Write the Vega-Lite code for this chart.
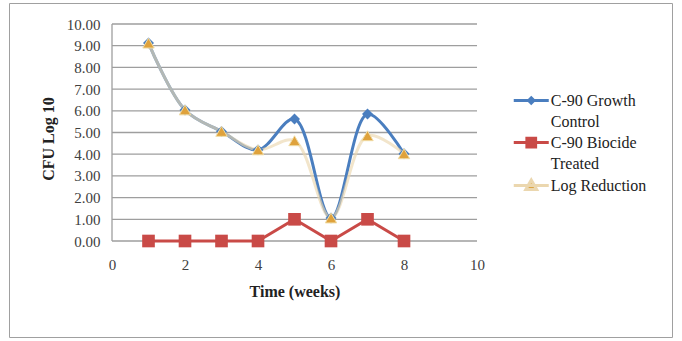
{
  "$schema": "https://vega.github.io/schema/vega-lite/v6.json",
  "width": 663,
  "height": 334,
  "autosize": "none",
  "padding": {"left": 9, "top": 3, "right": 10, "bottom": 4},
  "background": "white",
  "config": {
    "view": {"stroke": "#a0a0a0", "strokeWidth": 1},
    "font": "Liberation Serif",
    "axis": {
      "domain": false,
      "ticks": false,
      "grid": false,
      "labelOverlap": false,
      "labelFlush": false,
      "labelFont": "Liberation Serif",
      "labelFontSize": 15,
      "labelColor": "#404040",
      "titleFont": "Liberation Serif",
      "titleFontSize": 16,
      "titleFontWeight": "bold",
      "titleColor": "#222222",
      "titleAlign": "center",
      "titleBaseline": "middle"
    },
    "axisX": {"offset": -96, "labelPadding": 16, "titleX": 285.5, "titleY": 50},
    "axisY": {"offset": -103, "labelPadding": 12, "titleX": -64, "titleY": 135.5, "titleAngle": -90},
    "legend": {"labelFont": "Liberation Serif"}
  },
  "datasets": {
    "cfu": [
      {"week": 1, "series": "C-90 Growth Control", "value": 9.12},
      {"week": 2, "series": "C-90 Growth Control", "value": 6.04},
      {"week": 3, "series": "C-90 Growth Control", "value": 5.05},
      {"week": 4, "series": "C-90 Growth Control", "value": 4.2},
      {"week": 5, "series": "C-90 Growth Control", "value": 5.62},
      {"week": 6, "series": "C-90 Growth Control", "value": 1.06},
      {"week": 7, "series": "C-90 Growth Control", "value": 5.85},
      {"week": 8, "series": "C-90 Growth Control", "value": 4.02},
      {"week": 1, "series": "C-90 Biocide Treated", "value": 0},
      {"week": 2, "series": "C-90 Biocide Treated", "value": 0},
      {"week": 3, "series": "C-90 Biocide Treated", "value": 0},
      {"week": 4, "series": "C-90 Biocide Treated", "value": 0},
      {"week": 5, "series": "C-90 Biocide Treated", "value": 1},
      {"week": 6, "series": "C-90 Biocide Treated", "value": 0},
      {"week": 7, "series": "C-90 Biocide Treated", "value": 1},
      {"week": 8, "series": "C-90 Biocide Treated", "value": 0},
      {"week": 1, "series": "Log Reduction", "value": 9.12},
      {"week": 2, "series": "Log Reduction", "value": 6.04},
      {"week": 3, "series": "Log Reduction", "value": 5.05},
      {"week": 4, "series": "Log Reduction", "value": 4.2},
      {"week": 5, "series": "Log Reduction", "value": 4.62},
      {"week": 6, "series": "Log Reduction", "value": 1.06},
      {"week": 7, "series": "Log Reduction", "value": 4.85},
      {"week": 8, "series": "Log Reduction", "value": 4.02}
    ],
    "levels": [
      {"level": 0}, {"level": 1}, {"level": 2}, {"level": 3}, {"level": 4}, {"level": 5},
      {"level": 6}, {"level": 7}, {"level": 8}, {"level": 9}, {"level": 10}
    ]
  },
  "layer": [
    {
      "data": {"name": "levels"},
      "mark": {"type": "rule", "strokeWidth": 1.3, "color": "#9e9e9e"},
      "encoding": {
        "y": {
          "field": "level", "type": "quantitative", "title": "CFU Log 10",
          "scale": {"domain": [-4.424, 10.968], "nice": false, "zero": false},
          "axis": {"values": [0, 1, 2, 3, 4, 5, 6, 7, 8, 9, 10], "format": ".2f", "labelOverlap": false}
        },
        "x": {
          "datum": 0, "type": "quantitative", "title": "Time (weeks)",
          "scale": {"domain": [-2.822, 15.342], "nice": false, "zero": false},
          "axis": {"values": [0, 2, 4, 6, 8, 10], "labelOverlap": false}
        },
        "x2": {"datum": 10}
      }
    },
    {
      "data": {"name": "levels"},
      "transform": [{"filter": "datum.level == 0"}],
      "mark": {"type": "rule", "strokeWidth": 1.3, "color": "#9e9e9e"},
      "encoding": {
        "x": {"datum": 0, "type": "quantitative", "title": "Time (weeks)", "axis": {"values": [0, 2, 4, 6, 8, 10], "labelOverlap": false}},
        "y": {"field": "level", "type": "quantitative", "title": "CFU Log 10", "axis": {"values": [0, 1, 2, 3, 4, 5, 6, 7, 8, 9, 10], "format": ".2f", "labelOverlap": false}},
        "y2": {"datum": 10}
      }
    },
    {
      "data": {"name": "cfu"},
      "transform": [{"filter": "datum.series == 'C-90 Growth Control'"}],
      "mark": {"type": "line", "interpolate": "catmull-rom", "strokeWidth": 3},
      "encoding": {
        "x": {"field": "week", "type": "quantitative", "title": "Time (weeks)", "axis": {"values": [0, 2, 4, 6, 8, 10], "labelOverlap": false}},
        "y": {"field": "value", "type": "quantitative", "title": "CFU Log 10", "axis": {"values": [0, 1, 2, 3, 4, 5, 6, 7, 8, 9, 10], "format": ".2f", "labelOverlap": false}},
        "color": {
          "field": "series",
          "type": "nominal",
          "scale": {
            "domain": ["C-90 Growth Control", "C-90 Biocide Treated", "Log Reduction"],
            "range": ["#4a7ebf", "#c94a47", "#ebd7af"]
          },
          "legend": {
            "orient": "none",
            "legendX": 511.75,
            "legendY": 87,
            "title": null,
            "padding": 0,
            "symbolSize": 306.25,
            "symbolStrokeWidth": 3,
            "rowPadding": 2,
            "labelOffset": 9,
            "labelFont": "Liberation Serif",
            "labelFontSize": 16,
            "labelColor": "#222222",
            "labelBaseline": "alphabetic",
            "labelLimit": 200,
            "labelExpr": "datum.label == 'C-90 Growth Control' ? ['C-90 Growth', 'Control'] : datum.label == 'C-90 Biocide Treated' ? ['C-90 Biocide', 'Treated'] : datum.label",
            "encode": {
              "symbols": {
                "update": {
                  "shape": {"signal": "datum.value == 'C-90 Growth Control' ? 'M-2,0H2M0,-0.3L0.3,0L0,0.3L-0.3,0Z' : datum.value == 'C-90 Biocide Treated' ? 'M-2,0H2M-0.5,-0.5H0.5V0.5H-0.5Z' : 'M-2,0H2M0,-0.62L0.62,0.45H-0.62Z'"},
                  "fill": {"signal": "datum.value == 'C-90 Growth Control' ? '#4a7ebf' : datum.value == 'C-90 Biocide Treated' ? '#c94a47' : '#dba443'"},
                  "stroke": {"signal": "datum.value == 'C-90 Growth Control' ? '#4a7ebf' : datum.value == 'C-90 Biocide Treated' ? '#c94a47' : '#f3e0bb'"},
                  "opacity": {"value": 1},
                  "strokeOpacity": {"value": 1},
                  "fillOpacity": {"value": 1}
                }
              },
              "labels": {
                "update": {
                  "lineHeight": {"value": 21.5},
                  "dy": {"value": 5},
                  "font": {"value": "Liberation Serif"}
                }
              }
            }
          }
        }
      }
    },
    {
      "data": {"name": "cfu"},
      "transform": [{"filter": "datum.series == 'C-90 Biocide Treated'"}],
      "mark": {"type": "line", "interpolate": "linear", "strokeWidth": 3},
      "encoding": {
        "x": {"field": "week", "type": "quantitative", "title": "Time (weeks)", "axis": {"values": [0, 2, 4, 6, 8, 10], "labelOverlap": false}},
        "y": {"field": "value", "type": "quantitative", "title": "CFU Log 10", "axis": {"values": [0, 1, 2, 3, 4, 5, 6, 7, 8, 9, 10], "format": ".2f", "labelOverlap": false}},
        "color": {"field": "series", "type": "nominal"}
      }
    },
    {
      "data": {"name": "cfu"},
      "transform": [{"filter": "datum.series == 'Log Reduction'"}],
      "mark": {"type": "line", "interpolate": "catmull-rom", "strokeWidth": 3, "opacity": 0.65},
      "encoding": {
        "x": {"field": "week", "type": "quantitative", "title": "Time (weeks)", "axis": {"values": [0, 2, 4, 6, 8, 10], "labelOverlap": false}},
        "y": {"field": "value", "type": "quantitative", "title": "CFU Log 10", "axis": {"values": [0, 1, 2, 3, 4, 5, 6, 7, 8, 9, 10], "format": ".2f", "labelOverlap": false}},
        "color": {"field": "series", "type": "nominal"}
      }
    },
    {
      "data": {"name": "cfu"},
      "transform": [{"filter": "datum.series == 'C-90 Growth Control'"}],
      "mark": {"type": "point", "shape": "diamond", "filled": true, "size": 120, "opacity": 1, "color": "#4a7ebf"},
      "encoding": {
        "x": {"field": "week", "type": "quantitative", "title": "Time (weeks)", "axis": {"values": [0, 2, 4, 6, 8, 10], "labelOverlap": false}},
        "y": {"field": "value", "type": "quantitative", "title": "CFU Log 10", "axis": {"values": [0, 1, 2, 3, 4, 5, 6, 7, 8, 9, 10], "format": ".2f", "labelOverlap": false}}
      }
    },
    {
      "data": {"name": "cfu"},
      "transform": [{"filter": "datum.series == 'C-90 Biocide Treated'"}],
      "mark": {"type": "point", "shape": "square", "filled": true, "size": 160, "opacity": 1, "color": "#c94a47"},
      "encoding": {
        "x": {"field": "week", "type": "quantitative", "title": "Time (weeks)", "axis": {"values": [0, 2, 4, 6, 8, 10], "labelOverlap": false}},
        "y": {"field": "value", "type": "quantitative", "title": "CFU Log 10", "axis": {"values": [0, 1, 2, 3, 4, 5, 6, 7, 8, 9, 10], "format": ".2f", "labelOverlap": false}}
      }
    },
    {
      "data": {"name": "cfu"},
      "transform": [{"filter": "datum.series == 'Log Reduction'"}],
      "mark": {"type": "point", "shape": "triangle-up", "filled": true, "size": 130, "opacity": 1, "fill": "#dfa23c", "stroke": "#f0dca6", "strokeWidth": 1},
      "encoding": {
        "x": {"field": "week", "type": "quantitative", "title": "Time (weeks)", "axis": {"values": [0, 2, 4, 6, 8, 10], "labelOverlap": false}},
        "y": {"field": "value", "type": "quantitative", "title": "CFU Log 10", "axis": {"values": [0, 1, 2, 3, 4, 5, 6, 7, 8, 9, 10], "format": ".2f", "labelOverlap": false}}
      }
    }
  ]
}
